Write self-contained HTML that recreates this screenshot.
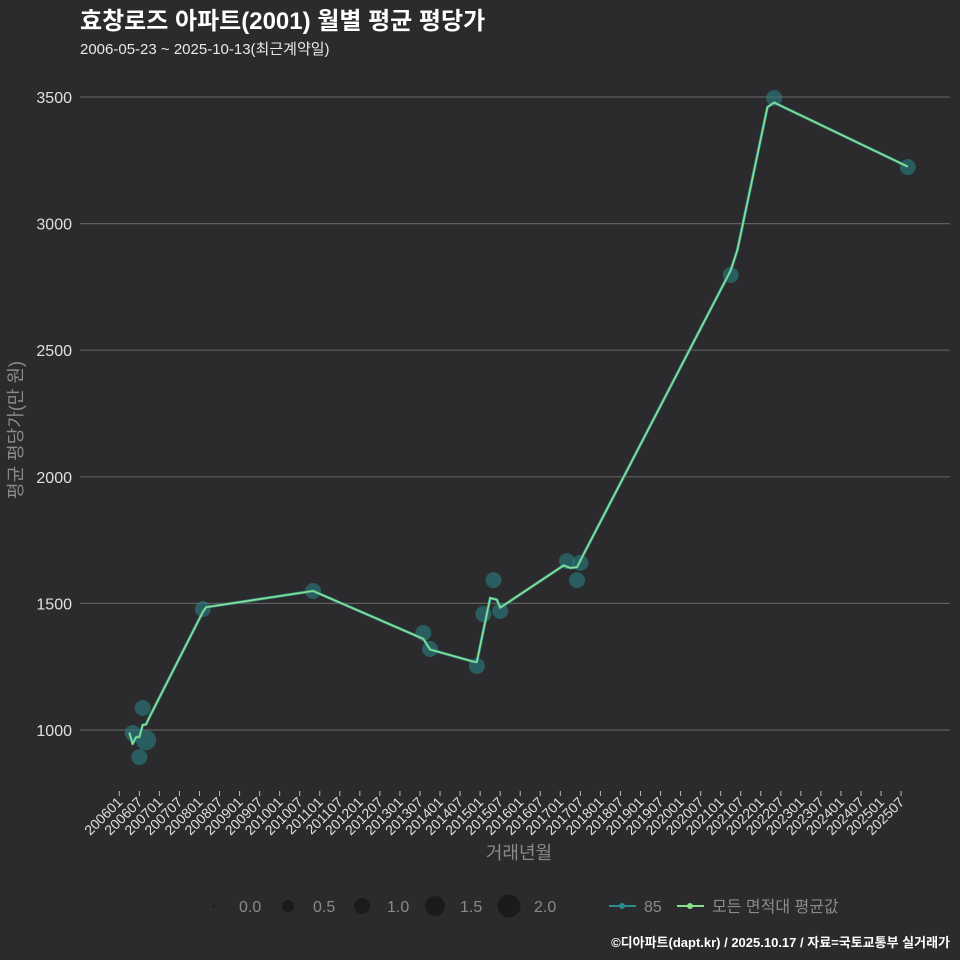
<!DOCTYPE html>
<html><head><meta charset="utf-8"><style>
html,body{margin:0;background:#2b2b2d;overflow:hidden;width:960px;height:960px;}
svg{display:block;}
svg text{font-family:"Liberation Sans","Noto Sans CJK KR",sans-serif;}
</style></head><body>
<svg id="chart" width="960" height="960" xmlns="http://www.w3.org/2000/svg">
<rect width="960" height="960" fill="#2b2b2d"/>
<text x="80" y="29" font-size="24" font-weight="bold" fill="#ffffff">효창로즈 아파트(2001) 월별 평균 평당가</text>
<text x="80" y="54" font-size="15" fill="#e8e8e8">2006-05-23 ~ 2025-10-13(최근계약일)</text>
<g id="grid"></g>
<g id="yticks"></g>
<g id="xticks"></g>
<g id="points"></g>
<g id="lines"></g>
<text transform="translate(22,430) rotate(-90)" text-anchor="middle" font-size="18" fill="#8a8a8a">평균 평당가(만 원)</text>
<text x="519" y="859" text-anchor="middle" font-size="18" fill="#8a8a8a">거래년월</text>
<g font-size="16" fill="#8a8a8a">
<circle cx="214" cy="906" r="1.5" fill="#1b1b1b"/><text x="239" y="912">0.0</text>
<circle cx="288" cy="906" r="6" fill="#1b1b1b"/><text x="313" y="912">0.5</text>
<circle cx="362" cy="906" r="8" fill="#1b1b1b"/><text x="387" y="912">1.0</text>
<circle cx="435" cy="906" r="10" fill="#1b1b1b"/><text x="460" y="912">1.5</text>
<circle cx="509" cy="906" r="11.5" fill="#1b1b1b"/><text x="534" y="912">2.0</text>
<g><line x1="609" y1="906" x2="636" y2="906" stroke="#2a8a8e" stroke-width="2"/><circle cx="622" cy="906" r="3" fill="#2a8a8e"/><text x="644" y="912">85</text></g>
<g><line x1="677" y1="906" x2="704" y2="906" stroke="#86e08a" stroke-width="2"/><circle cx="690" cy="906" r="3" fill="#86e08a"/><text x="712" y="912">모든 면적대 평균값</text></g>
</g>
<text x="950" y="947" text-anchor="end" font-size="13" font-weight="bold" fill="#ffffff">©디아파트(dapt.kr) / 2025.10.17 / 자료=국토교통부 실거래가</text>
</svg>
<script>
const yTicks=[1000,1500,2000,2500,3000,3500];
const ptMonths=["200605","200607","200608","200609","200802","201011","201308","201310","201412","201502","201505","201507","201703","201706","201707","202104","202205","202509"];
const ptValues=[988,893,1087,960,1478,1549,1383,1320,1253,1458,1592,1470,1667,1592,1660,2797,3496,3223];
const ptSizes=[1,1,1,1.6,1,1,1,1,1,1,1,1,1,1,1,1,1,1];
const lineMonths=["200604","200605","200606","200607","200608","200609","200610","200802","200803","201011","201308","201310","201411","201412","201504","201506","201507","201702","201704","201706","201708","202104","202106","202203","202205","202509"];
const lineValues=[990,945,972,972,1020,1022,1050,1466,1485,1549,1360,1318,1270,1268,1521,1515,1483,1650,1640,1643,1695,2815,2896,3460,3478,3225];
const ns="http://www.w3.org/2000/svg";
function mi(s){return (parseInt(s.slice(0,4))-2006)*12+parseInt(s.slice(4))-1;}
function X(s){return 119.3+mi(s)*3.341;}
function Y(v){return 730-(v-1000)*0.2532;}
function mk(t,a,p){const e=document.createElementNS(ns,t);for(const k in a)e.setAttribute(k,a[k]);p.appendChild(e);return e;}
const grid=document.getElementById('grid'),yt=document.getElementById('yticks'),xt=document.getElementById('xticks');
yTicks.forEach(v=>{
 const l=mk('line',{x1:80,x2:950,y1:Y(v),y2:Y(v),stroke:'#5e5e5e','stroke-width':1.2},grid);
 
 
 const t=mk('text',{x:72,y:Y(v)+6,'text-anchor':'end','font-size':16,fill:'#e0e0e0'},yt);
 t.textContent=v;
 
 
});
for(let y=2006;y<=2025;y++)for(const m of ['01','07']){
 const s=y+m,x=X(s);
 mk('line',{x1:x,x2:x,y1:791,y2:796,stroke:'#bbbbbb'},xt);
 const t=mk('text',{transform:`translate(${x+4},803) rotate(-45)`,'text-anchor':'end','font-size':14,fill:'#e0e0e0'},xt);
 t.textContent=s;
 
 
}
const pg=document.getElementById('points');
ptMonths.forEach((s,i)=>{
 const c=mk('circle',{cx:X(s),cy:Y(ptValues[i]),r:8*ptSizes[i]**0.5,fill:'#2a7f80','fill-opacity':0.6},pg);
 
 
});
const lg=document.getElementById('lines');
const pts=lineMonths.map((s,i)=>X(s)+','+Y(lineValues[i])).join(' ');
const l1=mk('polyline',{points:pts,fill:'none',stroke:'#2a8a8e','stroke-width':3,'stroke-linejoin':'round'},lg);


const l2=mk('polyline',{points:pts,fill:'none',stroke:'#8ee08a','stroke-width':1.6,'stroke-linejoin':'round'},lg);


</script>
</body></html>
